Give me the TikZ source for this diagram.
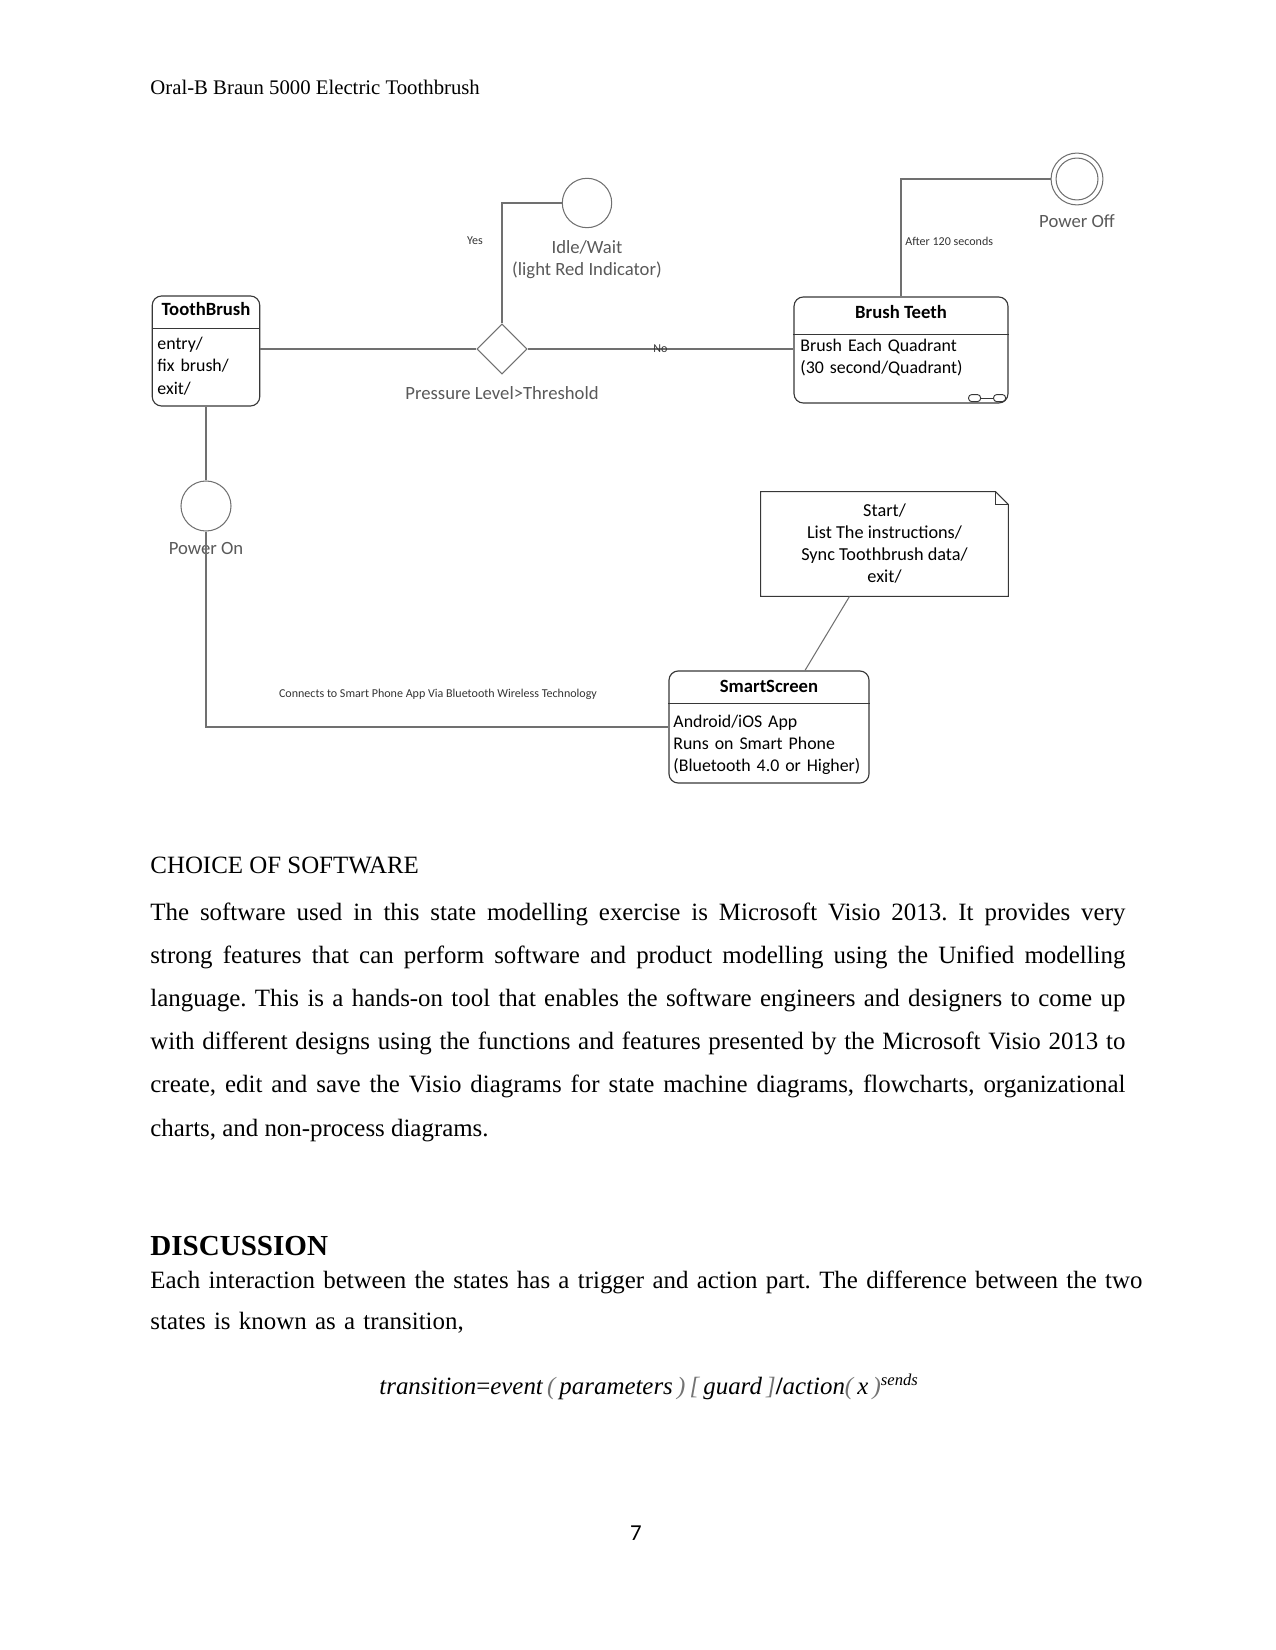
\documentclass[tikz,border=0pt]{standalone}
\usepackage{fontspec}
\setmainfont{Liberation Serif}
\newfontfamily\visiofont{Carlito}
\usetikzlibrary{calc, positioning, shapes.geometric}
\definecolor{LineGrey}{RGB}{112,112,112}
\definecolor{LabelGrey}{RGB}{89,89,89}
\definecolor{BoxEdge}{RGB}{55,55,55}
\frenchspacing

\tikzset{
  statebox/.style={draw=BoxEdge, line width=0.55pt, rounded corners=4.5pt, inner sep=0pt},
  divider/.style={draw=BoxEdge, line width=0.55pt},
  pseudo/.style={circle, draw=LineGrey, line width=0.5pt, inner sep=0pt},
  link/.style={draw=LineGrey, line width=0.5pt},
  boxtitle/.style={font=\visiofont\fontsize{9}{11}\selectfont\bfseries, inner sep=0pt},
  boxbody/.style={font=\visiofont\fontsize{8.6}{10.6}\selectfont, inner sep=0pt, text width=100pt, align=left},
  glabel/.style={font=\visiofont\fontsize{9}{10.6}\selectfont, text=LabelGrey, inner sep=0pt, align=center},
  tinylabel/.style={font=\visiofont\fontsize{5.8}{7}\selectfont, text=black!80, inner sep=0pt},
}

\begin{document}
\begin{tikzpicture}[x=0.4818pt, y=-0.4818pt, font=\fontsize{12}{14}\selectfont]
  \useasboundingbox (0,0) rectangle (1275,1650);
  \node[anchor=west, inner sep=0pt, font=\fontsize{10}{12}\selectfont] (header) at (150,87) {Oral-B Braun 5000 Electric Toothbrush};

  % states
  \node[statebox, minimum width=51.8pt, minimum height=53pt] (tooth) at (206,351) {};
  \node[boxtitle] (toothtitle) at (206,309) {ToothBrush};
  \draw[divider] ($(tooth.north west)+(0,33)$) -- ($(tooth.north east)+(0,33)$);
  \node[boxbody, anchor=base west, text width=48pt] (toothbody) at (157,350) {entry/\\fix brush/\\exit/};

  \node[statebox, minimum width=103.1pt, minimum height=51.1pt] (brush) at (901,350) {};
  \node[boxtitle] (brushtitle) at (901,312) {Brush Teeth};
  \draw[divider] ($(brush.north west)+(0,38)$) -- ($(brush.north east)+(0,38)$);
  \node[boxbody, anchor=base west] (brushbody) at (800,352) {Brush Each Quadrant\\(30 second/Quadrant)};
  \draw[divider, line width=0.45pt, rounded corners=1.5pt] ($(brush.south east)+(-40,-9)$) rectangle ($(brush.south east)+(-28,-2)$);
  \draw[divider, line width=0.45pt, rounded corners=1.5pt] ($(brush.south east)+(-15,-9)$) rectangle ($(brush.south east)+(-3,-2)$);
  \draw[divider, line width=0.45pt] ($(brush.south east)+(-28,-5.5)$) -- ($(brush.south east)+(-15,-5.5)$);

  \node[statebox, minimum width=96.4pt, minimum height=54pt] (smart) at (769,727) {};
  \node[boxtitle] (smarttitle) at (769,686) {SmartScreen};
  \draw[divider] ($(smart.north west)+(0,33)$) -- ($(smart.north east)+(0,33)$);
  \node[boxbody, anchor=base west] (smartbody) at (673,727) {Android/iOS App\\Runs on Smart Phone\\(Bluetooth 4.0 or Higher)};

  % note
  \node[inner sep=0pt, minimum width=119pt, minimum height=50.1pt, align=center,
        font=\visiofont\fontsize{8.8}{10.6}\selectfont] (note) at (884.5,544)
        {Start/\\List The instructions/\\Sync Toothbrush data/\\exit/};
  \draw[divider] (note.south west) -- (note.north west) -- ($(note.north east)+(-13,0)$)
    -- ($(note.north east)+(0,13)$) -- (note.south east) -- cycle;
  \draw[divider, line width=0.4pt] ($(note.north east)+(-13,0)$) -- ($(note.north east)+(-13,13)$) -- ($(note.north east)+(0,13)$);

  % pseudo states
  \node[pseudo, minimum size=23.8pt] (idle) at (587,203) {};
  \node[glabel, below=5.5pt of idle] (idlelabel) {Idle/Wait\\(light Red Indicator)};
  \node[pseudo, minimum size=25pt] (off) at (1077,179) {};
  \node[pseudo, minimum size=20.2pt] (offring) at (off) {};
  \node[glabel, below=4pt of off] (offlabel) {Power Off};
  \node[pseudo, minimum size=24.1pt] (on) at (206,506) {};
  \node[glabel, below=5pt of on] (onlabel) {Power On};
  \node[diamond, draw=LineGrey, line width=0.5pt, inner sep=0pt, minimum width=24.1pt, minimum height=24.1pt] (choice) at (502,349) {};
  \node[glabel, below=5.5pt of choice] (choicelabel) {Pressure Level>Threshold};

  % transitions
  \draw[link] (tooth.east |- choice.west) -- (choice.west);
  \draw[link] (choice.east) -- (choice.east -| brush.west) node[tinylabel, pos=0.5] (nolabel) {No};
  \draw[link] (choice.north) |- (idle.west);
  \node[tinylabel] (yeslabel) at (475,241) {Yes};
  \draw[link] (brush.north) |- (off.west);
  \node[tinylabel, anchor=west] (afterlabel) at (905,241) {After 120 seconds};
  \draw[link] (tooth.south) -- (on.north);
  \draw[link] (on.south) |- (smart.west);
  \node[tinylabel] (btlabel) at (438,694) {Connects to Smart Phone App Via Bluetooth Wireless Technology};
  \draw[link] ($(note.south)+(-35,0)$) -- ($(smart.north)+(36,0)$);

  % page text
  \node[anchor=west, inner sep=0pt] (choicehead) at (150,865) {CHOICE OF SOFTWARE};
  \node[anchor=base west, text width=6.5in, align=justify, inner sep=0pt, font=\fontsize{12}{20.83}\selectfont] (choicetext) at (150,920)
    {The software used in this state modelling exercise is Microsoft Visio 2013. It provides very\linebreak
     strong features that can perform software and product modelling using the Unified modelling\linebreak
     language. This is a hands-on tool that enables the software engineers and designers to come up\linebreak
     with different designs using the functions and features presented by the Microsoft Visio 2013 to\linebreak
     create, edit and save the Visio diagrams for state machine diagrams, flowcharts, organizational\linebreak
     charts, and non-process diagrams.};
  \node[anchor=west, inner sep=0pt, font=\fontsize{14}{16}\selectfont\bfseries] (discussionhead) at (150,1246) {DISCUSSION};
  \node[anchor=base west, text width=7in, align=left, inner sep=0pt, font=\fontsize{12}{20.2}\selectfont] (discussiontext) at (150,1288)
    {Each interaction between the states has a trigger and action part. The difference between the two\\
     states is known as a transition,};
  \node[anchor=west, inner sep=0pt] (transition) at (379,1387)
    {\itshape transition\/{\upshape =}event\,{\color{black!55}(}\,parameters\,{\color{black!55})}\,{\color{black!55}[}\,guard\,{\color{black!55}]}{\upshape\bfseries /}action{\color{black!55}(}\,x\,{\color{black!55})}\textsuperscript{\footnotesize sends}};
  \node[font=\visiofont\fontsize{11}{13}\selectfont, inner sep=0pt] (pagenum) at (636,1533) {7};
\end{tikzpicture}
\end{document}
